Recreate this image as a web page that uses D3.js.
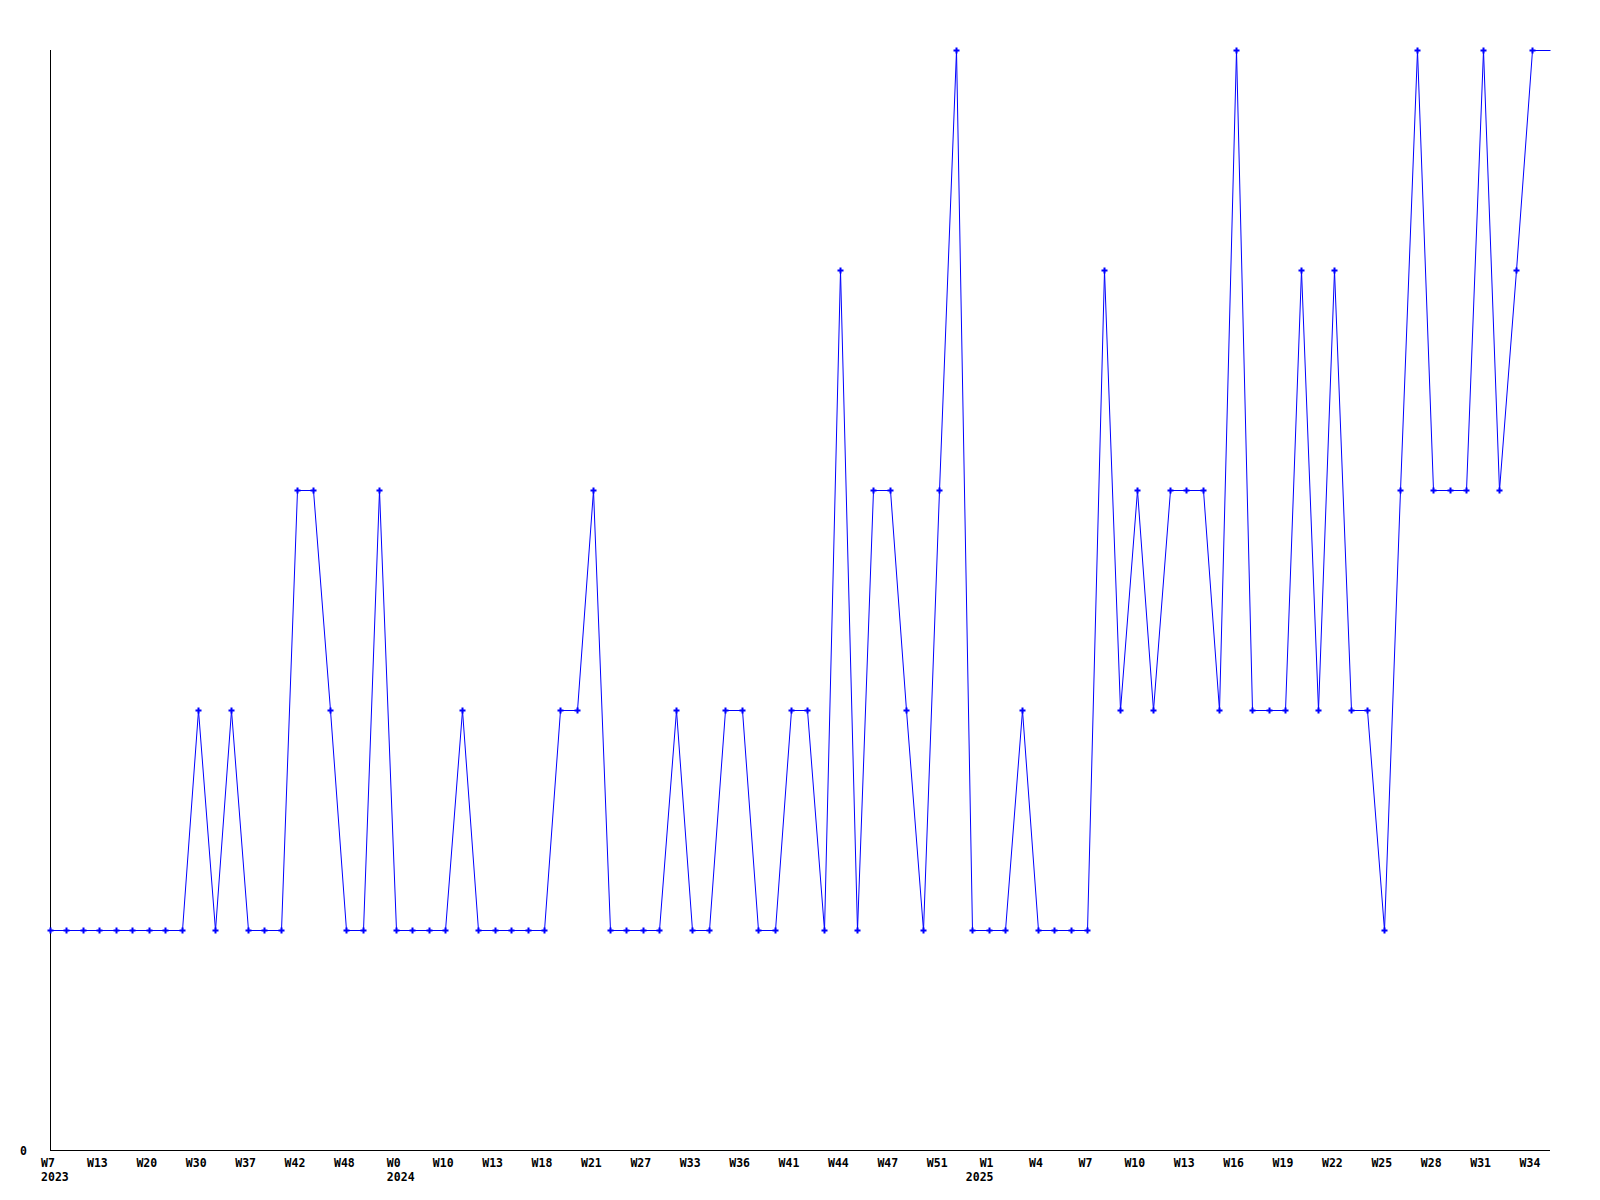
<!DOCTYPE html>
<html>
<head>
<meta charset="utf-8">
<script src="https://cdn.jsdelivr.net/npm/d3@7"></script>
<style>
  html, body { margin: 0; padding: 0; background: #fff; }
  svg text { font-family: "DejaVu Sans Mono", "Liberation Mono", monospace; font-weight: bold; font-size: 11.5px; fill: #000; }
</style>
</head>
<body>
<svg id="chart" width="1600" height="1200"></svg>
<script>
// Weekly values (one per point)
const values = [
  1,1,1,1,1,1,1,1,1,2,
  1,2,1,1,1,3,3,2,1,1,
  3,1,1,1,1,2,1,1,1,1,
  1,2,2,3,1,1,1,1,2,1,
  1,2,2,1,1,2,2,1,4,1,
  3,3,2,1,3,5,1,1,1,2,
  1,1,1,1,4,2,3,2,3,3,
  3,2,5,2,2,2,4,2,4,2,
  2,1,3,5,3,3,3,5,3,4,
  5
];
// Tick labels, one every 3rd point
const tickLabels = ["W7","W13","W20","W30","W37","W42","W48","W0","W10","W13",
  "W18","W21","W27","W33","W36","W41","W44","W47","W51","W1",
  "W4","W7","W10","W13","W16","W19","W22","W25","W28","W31","W34"];
const tickStep = 3;
// Year labels: index of the tick they belong to
const yearTickIndex = [0, 7, 19];
const yearLabels = ["2023", "2024", "2025"];
const yTicks = [0];

(function () {
const svg = d3.select("#chart");
const mLeft = 50, mRight = 1550, mTop = 50, mBottom = 1150;
const lastX = 1532;
const labelShift = -2;

const x = d3.scaleLinear().domain([0, values.length - 1]).range([mLeft, lastX]);
const y = d3.scaleLinear().domain([0, 5]).range([mBottom, mTop]);

// axes lines
svg.append("line").attr("x1", mLeft + 0.5).attr("x2", mLeft + 0.5).attr("y1", mTop).attr("y2", mBottom + 0.5)
  .attr("stroke", "#000").attr("stroke-width", 1);
svg.append("line").attr("x1", mLeft).attr("x2", mRight).attr("y1", mBottom + 0.5).attr("y2", mBottom + 0.5)
  .attr("stroke", "#000").attr("stroke-width", 1);

// y tick label
svg.selectAll("text.ytick").data(yTicks).enter().append("text")
  .attr("class", "ytick")
  .attr("x", 20).attr("y", d => y(d) + 5)
  .text(d => d);

// line (extends to right edge with the last value)
const pts = values.map((v, i) => [x(i), y(v)]);
pts.push([mRight, y(values[values.length - 1])]);
svg.append("path")
  .attr("d", d3.line()(pts.map(p => [Math.round(p[0]) + 0.5, Math.round(p[1]) + 0.5])))
  .attr("fill", "none").attr("stroke", "#0000ff").attr("stroke-width", 1);

// markers
const sym = d3.symbol().type(d3.symbolCross).size(20);
svg.selectAll("path.pt").data(values).enter().append("path")
  .attr("class", "pt")
  .attr("transform", (d, i) => `translate(${Math.round(x(i)) + 0.5},${Math.round(y(d)) + 0.5})`)
  .attr("d", sym())
  .attr("fill", "#0000ff");

// week tick labels
const wk = svg.selectAll("text.wk").data(tickLabels).enter().append("text")
  .attr("class", "wk")
  .attr("x", (d, i) => x(i * tickStep) + labelShift)
  .attr("y", 1167)
  .attr("text-anchor", "middle")
  .text(d => d);

// year labels
const yearAnchor = ["start", "start", "end"];
yearLabels.forEach((t, k) => {
  const ti = yearTickIndex[k];
  const node = wk.nodes()[ti];
  const w = node.getComputedTextLength();
  const cx = x(ti * tickStep) + labelShift;
  const xx = yearAnchor[k] === "start" ? cx - w / 2 : cx + w / 2;
  svg.append("text")
    .attr("x", xx).attr("y", 1181)
    .attr("text-anchor", yearAnchor[k])
    .text(t);
});
})();
</script>
</body>
</html>
